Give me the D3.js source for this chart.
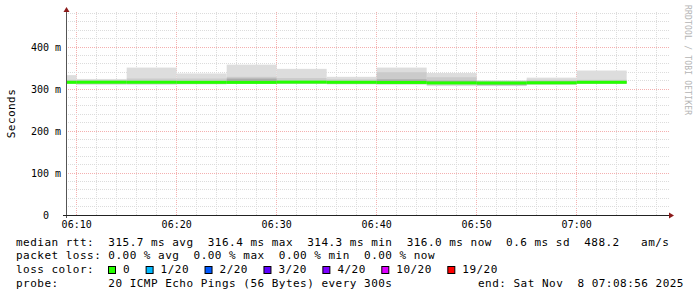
<!DOCTYPE html>
<html>
<head>
<meta charset="utf-8">
<script src="https://cdn.jsdelivr.net/npm/d3@7"></script>
<style>
  html, body { margin: 0; padding: 0; background: #fff; }
  svg { display: block; }
  text { font-family: "DejaVu Sans Mono", monospace; white-space: pre; }
</style>
</head>
<body>
<div id="chart"></div>
<script>
// 5-minute steps (start times) and ping distribution per step, in ms
const stepTimes = ["06:05", "06:10", "06:15", "06:20", "06:25", "06:30", "06:35", "06:40", "06:45", "06:50", "06:55", "07:00"];
const pingMax   = [333, 324, 351, 337, 358, 348, 329, 351, 338, 321, 327, 344];
const pingHigh  = [322, 321, 325, 325, 329, 326, 323, 340, 328, 319, 322, 322];
const pingUpper = [318, 318, 319, 319, 325, 319, 318, 323, 320, 317, 318, 318];
const median    = [316.0, 316.2, 316.1, 315.9, 315.8, 316.4, 316.0, 315.6, 314.5, 314.3, 314.8, 316.0];
const pingLower = [314, 314, 314, 314, 314, 314, 314, 314, 312, 310, 313, 314];
const pingLow   = [313, 312, 312, 312, 313, 313, 312, 312, 310, 308, 311, 313];
const pingMin   = [312, 310, 310, 311, 312, 312, 311, 310, 307, 307, 310, 312];

const yTicks = [0, 100, 200, 300, 400];
const xTickLabels = ["06:10", "06:20", "06:30", "06:40", "06:50", "07:00"];

const lossLabels = ["0", "1/20", "2/20", "3/20", "4/20", "10/20", "19/20"];
const lossColors = ["#26ff00", "#00b8ff", "#0059ff", "#5e00ff", "#7e00ff", "#dd00ff", "#ff0000"];

const legendLines = [
  "median rtt:  315.7 ms avg  316.4 ms max  314.3 ms min  316.0 ms now  0.6 ms sd  488.2   am/s",
  "packet loss: 0.00 % avg  0.00 % max  0.00 % min  0.00 % now",
  "loss color:",
  "probe:       20 ICMP Echo Pings (56 Bytes) every 300s"
];
const endLabel = "end: Sat Nov  8 07:08:56 2025";

const width = 697, height = 297;
const plotLeft = 66, plotRight = 666, plotBottom = 215, plotTop = 12;

const parse = s => { const [h, m] = s.split(":").map(Number); return new Date(2025, 10, 8, h, m, 0); };
const tStart = new Date(2025, 10, 8, 6, 8, 56);
const tEnd = new Date(2025, 10, 8, 7, 8, 56);

const x = d3.scaleTime().domain([tStart, tEnd]).range([plotLeft, plotRight]);
const y = d3.scaleLinear().domain([0, 400]).range([plotBottom, plotBottom - 168]);

const svg = d3.select("#chart").append("svg")
  .attr("width", width).attr("height", height)
  .attr("viewBox", [0, 0, width, height]);

svg.append("rect").attr("width", width).attr("height", height).attr("fill", "#fff");

const crisp = v => Math.floor(v) + 0.5;

// grid: 2 minutes / 20 ms, major every 10 minutes / 100 ms
const grid = svg.append("g");
x.ticks(d3.timeMinute.every(2)).forEach(t => {
  const major = t.getMinutes() % 10 === 0;
  grid.append("line")
    .attr("x1", crisp(x(t))).attr("x2", crisp(x(t)))
    .attr("y1", plotBottom).attr("y2", plotTop)
    .attr("stroke", major ? "#f4b0b0" : "#dcdcdc")
    .attr("stroke-dasharray", "1,1");
});
d3.range(20, 481, 20).forEach(v => {
  const major = v % 100 === 0;
  grid.append("line")
    .attr("x1", plotLeft).attr("x2", plotRight + 3)
    .attr("y1", crisp(y(v))).attr("y2", crisp(y(v)))
    .attr("stroke", major ? "#f4b0b0" : "#dcdcdc")
    .attr("stroke-dasharray", "1,1");
});

// smoke
svg.append("clipPath").attr("id", "plot")
  .append("rect").attr("x", plotLeft + 1).attr("y", plotTop)
  .attr("width", plotRight - plotLeft).attr("height", plotBottom - plotTop);

const smoke = svg.append("g").attr("clip-path", "url(#plot)");
const steps = stepTimes.map((s, i) => ({
  t0: parse(s), t1: d3.timeMinute.offset(parse(s), 5), i
}));
const bands = [
  [pingMin, pingMax, "#dddddd"],
  [pingLow, pingHigh, "#cbcbcb"],
  [pingLower, pingUpper, "#ababab"]
];
bands.forEach(([lo, hi, col]) => {
  smoke.append("g").selectAll("rect").data(steps).join("rect")
    .attr("x", d => x(d.t0))
    .attr("width", d => x(d.t1) - x(d.t0))
    .attr("y", d => y(hi[d.i]))
    .attr("height", d => y(lo[d.i]) - y(hi[d.i]))
    .attr("fill", col);
});
smoke.append("g").selectAll("rect").data(steps).join("rect")
  .attr("x", d => x(d.t0))
  .attr("width", d => x(d.t1) - x(d.t0))
  .attr("y", d => y(median[d.i]) - 1.5)
  .attr("height", 3)
  .attr("fill", lossColors[0]);

// axes
svg.append("line").attr("x1", plotLeft + 0.5).attr("x2", plotLeft + 0.5)
  .attr("y1", plotBottom + 3).attr("y2", plotTop - 1).attr("stroke", "#555");
svg.append("line").attr("x1", plotLeft - 3).attr("x2", plotRight + 4)
  .attr("y1", plotBottom + 0.5).attr("y2", plotBottom + 0.5).attr("stroke", "#222");
svg.append("path")
  .attr("d", `M${plotLeft - 2.5},${plotTop} L${plotLeft + 3.5},${plotTop} L${plotLeft + 0.5},${plotTop - 5} Z`)
  .attr("fill", "#8b1a1a");
svg.append("path")
  .attr("d", `M${plotRight + 3},${plotBottom - 2.5} L${plotRight + 3},${plotBottom + 3.5} L${plotRight + 8},${plotBottom + 0.5} Z`)
  .attr("fill", "#8b1a1a");

// labels
svg.append("g").selectAll("text").data(yTicks).join("text")
  .attr("x", 61).attr("y", d => y(d) + 3.5)
  .attr("text-anchor", "end")
  .attr("font-size", 10).attr("fill", "#000")
  .text(d => d === 0 ? "0  " : `${d} m`);

svg.append("g").selectAll("text").data(xTickLabels).join("text")
  .attr("x", d => x(parse(d)))
  .attr("y", 228)
  .attr("text-anchor", "middle")
  .attr("font-size", 10).attr("fill", "#000")
  .text(d => d);

svg.append("text")
  .attr("transform", `translate(15,${(plotTop + plotBottom) / 2}) rotate(-90)`)
  .attr("text-anchor", "middle")
  .attr("font-size", 11).attr("letter-spacing", 0.45)
  .text("Seconds");

svg.append("text")
  .attr("transform", "translate(685,5) rotate(90)")
  .attr("font-size", 8).attr("letter-spacing", 0.2)
  .attr("fill", "#b4b4b4")
  .text("RRDTOOL / TOBI OETIKER");

// legend
const legend = svg.append("g").attr("font-size", 11).attr("letter-spacing", 0.48).attr("fill", "#000");
legendLines.forEach((s, i) => {
  legend.append("text").attr("x", 16).attr("y", 245.5 + i * 13.8).text(s);
});
legend.append("text").attr("x", 478).attr("y", 245.5 + 3 * 13.8).text(endLabel);

let bx = 108;
lossLabels.forEach((lab, i) => {
  legend.append("rect")
    .attr("x", bx + 0.5).attr("y", 266.5).attr("width", 7).attr("height", 7)
    .attr("fill", lossColors[i]).attr("stroke", "#000");
  const t = legend.append("text").attr("x", bx + 15).attr("y", 245.5 + 2 * 13.8).text(lab);
  bx = bx + 15 + t.node().getComputedTextLength() + 15.5;
});
</script>
</body>
</html>
